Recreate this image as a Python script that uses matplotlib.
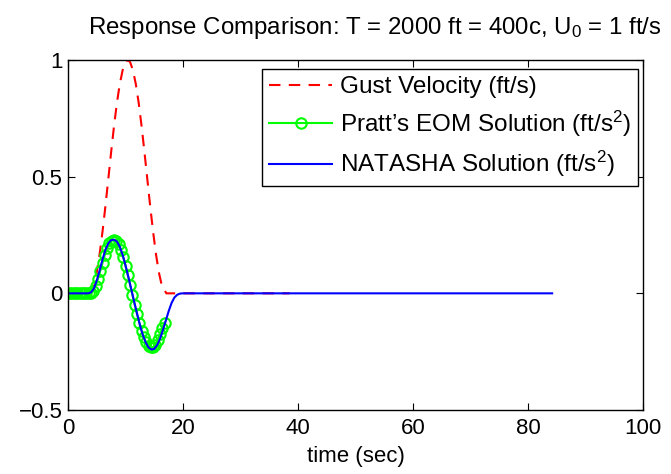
import numpy as np
import matplotlib
matplotlib.use('Agg')
import matplotlib.pyplot as plt

plt.rcParams['font.family'] = ['Liberation Sans', 'DejaVu Sans']
plt.rcParams['mathtext.fontset'] = 'custom'
plt.rcParams['mathtext.rm'] = 'Liberation Sans'
plt.rcParams['mathtext.it'] = 'Liberation Sans'

# gust velocity (ft/s)
gust_t = [0, 3.7, 4.5, 5.0, 5.5, 6.0, 6.5, 7.0, 7.5, 8.0, 8.5, 9.0, 9.5, 10.0, 10.4,
          10.8, 11.3, 11.8, 12.3, 12.8, 13.3, 13.8, 14.3, 14.8, 15.3, 15.8, 16.3, 17.1, 38.5]
gust_v = [0, 0, 0.035, 0.09, 0.168, 0.264, 0.372, 0.488, 0.605, 0.716, 0.815, 0.896, 0.956, 0.991, 1.0,
          0.991, 0.956, 0.896, 0.815, 0.716, 0.605, 0.488, 0.372, 0.264, 0.168, 0.09, 0.035, 0, 0]

# Pratt's EOM solution (ft/s^2)
pratt_t = [0, 0.4, 0.8, 1.2, 1.6, 2.0, 2.4, 2.8, 3.2, 3.6, 4.0, 4.4, 4.8, 5.2, 5.6,
           6.0, 6.4, 6.8, 7.2, 7.6, 8.0, 8.4, 8.8, 9.2, 9.6, 10.0, 10.4, 10.8, 11.2,
           11.6, 12.0, 12.4, 12.8, 13.2, 13.6, 14.0, 14.4, 14.8, 15.2, 15.6, 16.0, 16.4, 16.8]
pratt_v = [0, 0, 0, 0, 0, 0, 0, 0, 0, 0, 0.002, 0.012, 0.033, 0.062, 0.095,
           0.13, 0.165, 0.194, 0.214, 0.226, 0.229, 0.224, 0.21, 0.186, 0.155, 0.118, 0.078, 0.036, -0.006,
           -0.048, -0.088, -0.126, -0.16, -0.188, -0.21, -0.225, -0.232, -0.23, -0.22, -0.2, -0.175, -0.148, -0.125]

# NATASHA solution (ft/s^2)
nat_t = [0, 3.5, 4.0, 4.5, 5.0, 5.5, 6.0, 6.5, 7.0, 7.5, 8.0, 8.5, 9.0, 9.5, 10.0,
         10.5, 11.0, 11.5, 12.0, 12.5, 13.0, 13.5, 14.0, 14.5, 15.0, 15.5, 16.0, 16.5,
         17.0, 17.5, 18.0, 18.5, 19.0, 19.5, 20.0, 84.2]
nat_v = [0, 0, 0.004, 0.02, 0.055, 0.098, 0.145, 0.186, 0.214, 0.228, 0.23, 0.222, 0.2, 0.165, 0.12,
         0.07, 0.018, -0.035, -0.086, -0.135, -0.178, -0.21, -0.232, -0.241, -0.238, -0.222, -0.195, -0.158,
         -0.118, -0.077, -0.042, -0.018, -0.006, -0.001, 0, 0]

figsize_px = np.array([671, 474])
dpi = 100
fig = plt.figure(figsize=figsize_px / dpi, dpi=dpi)
ax = fig.add_axes([68 / 671, 1 - 410 / 474, (643 - 68) / 671, (410 - 60) / 474])

ax.plot(gust_t, gust_v, color=(1, 0, 0), linestyle=(0, (5.5, 4)), linewidth=1.5,
        label='Gust Velocity (ft/s)')
ax.plot(pratt_t, pratt_v, color=(0, 1, 0), linewidth=1.5, marker='o', markersize=7.5,
        markerfacecolor='none', markeredgewidth=1.5, label='Pratt\u2019s EOM Solution (ft/s$^2$)')
ax.plot(nat_t, nat_v, color=(0, 0, 1), linewidth=1.5, label='NATASHA Solution (ft/s$^2$)')

ax.set_xlim(0, 100)
ax.set_ylim(-0.5, 1)
ax.set_xticks([0, 20, 40, 60, 80, 100])
ax.set_yticks([-0.5, 0, 0.5, 1])
ax.set_yticklabels(['\u22120.5', '0', '0.5', '1'])
ax.tick_params(direction='in', top=True, right=True, labelsize=16, length=5, width=0.8, pad=4)
ax.tick_params(axis='x', pad=6)
for s in ax.spines.values():
    s.set_linewidth(1.0)

ax.set_xlabel('time (sec)', fontsize=16, labelpad=5)
ax.set_title('Response Comparison: T = 2000 ft = 400c, U$_0$ = 1 ft/s', fontsize=17.3, x=0.533, pad=19)

leg = ax.legend(loc='upper right', bbox_to_anchor=(638 / 671, 1 - 69 / 474),
                bbox_transform=fig.transFigure, borderaxespad=0,
                fontsize=17.5, fancybox=False, edgecolor='black',
                framealpha=1, borderpad=0.3, labelspacing=0.42, handlelength=2.6,
                handletextpad=0.3)
leg.get_frame().set_linewidth(1.0)

plt.savefig('out.png')
